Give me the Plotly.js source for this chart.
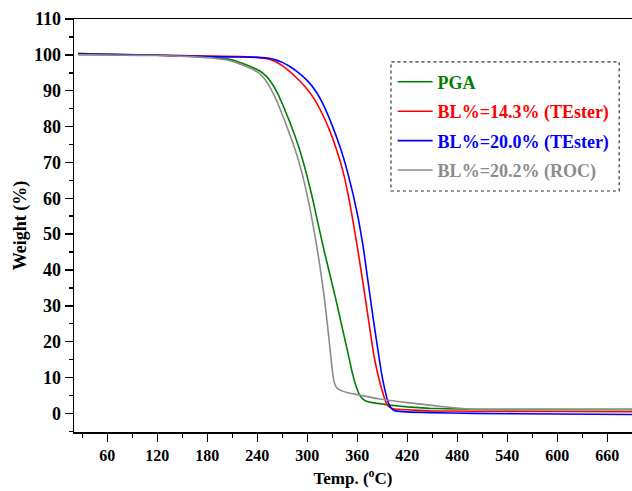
<!DOCTYPE html>
<html>
<head>
<meta charset="utf-8">
<script src="https://cdn.plot.ly/plotly-3.0.1.min.js"></script>
<style>html,body{margin:0;padding:0;background:#fff;}#chart{width:632px;height:491px;}</style>
</head>
<body>
<div id="chart"></div>
<script>
// ---- Data ----
const seriesNames = ["PGA", "BL%=14.3% (TEster)", "BL%=20.0% (TEster)", "BL%=20.2% (ROC)"];
const seriesColors = ["#008000", "#ff0000", "#0000ff", "#8c8c8c"];

const pgaTemp = [25, 40, 80, 120, 160, 190, 205, 215, 225, 235, 243, 250, 257, 264, 271, 278, 285, 292, 299, 306, 313, 320, 327, 334, 341, 348, 354, 359, 363, 367, 372, 378, 387, 399, 420, 447, 467, 500, 550, 600, 690];
const pgaWeight = [100.4, 100.3, 100.1, 99.9, 99.6, 99.2, 98.8, 98.2, 97.4, 96.4, 95.5, 94.2, 92.2, 89.4, 85.8, 81.8, 77.5, 72.6, 66.8, 60.2, 52.8, 45.5, 38.8, 32.0, 24.8, 17.6, 11.3, 7.2, 5.0, 3.9, 3.3, 3.0, 2.7, 2.3, 1.8, 1.4, 1.3, 1.15, 1.1, 1.1, 1.1];

const te143Temp = [25, 60, 120, 180, 220, 240, 252, 262, 270, 278, 288, 298, 308, 318, 327, 335, 343, 350, 356, 362, 368, 374, 380, 385, 389, 392, 395, 398, 403, 420, 447, 500, 600, 690];
const te143Weight = [100.2, 100.1, 99.9, 99.7, 99.5, 99.3, 98.9, 98.1, 97.0, 95.5, 93.4, 90.9, 87.8, 83.5, 78.8, 73.6, 67.3, 59.8, 52.0, 43.5, 34.5, 25.2, 16.0, 10.5, 7.0, 4.6, 2.7, 1.8, 1.3, 1.0, 0.7, 0.6, 0.5, 0.45];

const te200Temp = [25, 60, 120, 180, 220, 240, 252, 262, 270, 280, 290, 300, 310, 320, 330, 340, 348, 355, 361, 367, 373, 379, 385, 389, 393, 396, 399, 402, 406, 420, 447, 500, 600, 690];
const te200Weight = [100.2, 100.1, 99.9, 99.5, 99.4, 99.3, 99.1, 98.6, 97.9, 96.6, 94.9, 92.8, 89.9, 85.7, 80.2, 73.8, 67.5, 61.0, 54.5, 46.5, 36.5, 26.5, 17.2, 11.2, 6.6, 3.8, 2.0, 1.1, 0.7, 0.4, 0.2, 0.0, -0.2, -0.3];

const rocTemp = [25, 40, 80, 120, 160, 190, 205, 215, 225, 235, 242, 249, 256, 263, 270, 277, 284, 291, 297, 303, 309, 315, 320, 324, 327, 330, 332, 334, 337, 342, 350, 363, 387, 420, 447, 470, 495, 530, 600, 690];
const rocWeight = [100.0, 100.0, 99.9, 99.8, 99.5, 99.0, 98.5, 97.8, 96.9, 95.9, 94.9, 93.2, 90.6, 87.3, 83.3, 79.0, 74.5, 69.3, 63.8, 57.3, 49.8, 41.2, 33.0, 25.0, 18.5, 12.0, 9.0, 7.6, 6.8, 6.2, 5.7, 5.1, 4.0, 3.0, 2.3, 1.7, 1.15, 1.0, 1.0, 1.0];

const xTickVals = [60, 120, 180, 240, 300, 360, 420, 480, 540, 600, 660];
const yTickVals = [0, 10, 20, 30, 40, 50, 60, 70, 80, 90, 100, 110];

// ---- Build traces ----
const xs = [pgaTemp, te143Temp, te200Temp, rocTemp];
const ys = [pgaWeight, te143Weight, te200Weight, rocWeight];
const traces = xs.map((x, i) => ({
  x: x, y: ys[i], type: 'scatter', mode: 'lines',
  name: '<b><span style="color:' + seriesColors[i] + '">' + seriesNames[i] + '</span></b>',
  legendgroup: 'g' + i,
  line: {color: seriesColors[i], width: 1.6, shape: 'spline', smoothing: 0.4}
}));

const serif = 'Liberation Serif, Times New Roman, serif';
const layout = {
  width: 632, height: 491,
  margin: {l: 74, r: 0, t: 19, b: 59},
  paper_bgcolor: '#ffffff', plot_bgcolor: '#ffffff',
  font: {family: serif, color: '#000'},
  showlegend: true,
  legend: {
    x: 0.571, y: 0.892, xanchor: 'left', yanchor: 'top',
    bgcolor: 'rgba(0,0,0,0)', borderwidth: 0,
    font: {family: serif, size: 18, color: '#000'},
    traceorder: 'grouped', tracegroupgap: 3, itemwidth: 35
  },
  xaxis: {
    range: [20, 689.6], autorange: false,
    tickvals: xTickVals, ticktext: xTickVals.map(v => '<b>' + v + '</b>'),
    ticks: 'outside', ticklen: 8, tickwidth: 1.5, tickcolor: '#000',
    minor: {dtick: 30, tick0: 0, ticks: 'outside', ticklen: 4, tickwidth: 1.5, tickcolor: '#000', showgrid: false},
    showline: true, linecolor: '#000', linewidth: 1.5, mirror: true,
    showgrid: false, zeroline: false,
    tickfont: {family: serif, size: 16, color: '#000'},
    title: {text: '<b>Temp. (<sup>o</sup>C)</b>', font: {family: serif, size: 17, color: '#000'}, standoff: 9}
  },
  yaxis: {
    range: [-5.2, 110], autorange: false,
    tickvals: yTickVals, ticktext: yTickVals.map(v => '<b>' + v + '</b>'),
    ticks: 'outside', ticklen: 8, tickwidth: 1.5, tickcolor: '#000',
    minor: {dtick: 5, tick0: 0, ticks: 'outside', ticklen: 4, tickwidth: 1.5, tickcolor: '#000', showgrid: false},
    showline: true, linecolor: '#000', linewidth: 1.5, mirror: false,
    showgrid: false, zeroline: false,
    tickfont: {family: serif, size: 18, color: '#000'},
    title: {text: '<b>Weight (%)</b>', font: {family: serif, size: 18, color: '#000'}, standoff: 2}
  },
  shapes: [{
    type: 'rect', xref: 'paper', yref: 'paper',
    x0: 0.568, x1: 0.977, y0: 0.5835, y1: 0.896,
    line: {color: '#333', width: 1.2, dash: 'dot'}, fillcolor: 'rgba(0,0,0,0)'
  }]
};

Plotly.newPlot('chart', traces, layout, {displayModeBar: false, staticPlot: true});
</script>
</body>
</html>
